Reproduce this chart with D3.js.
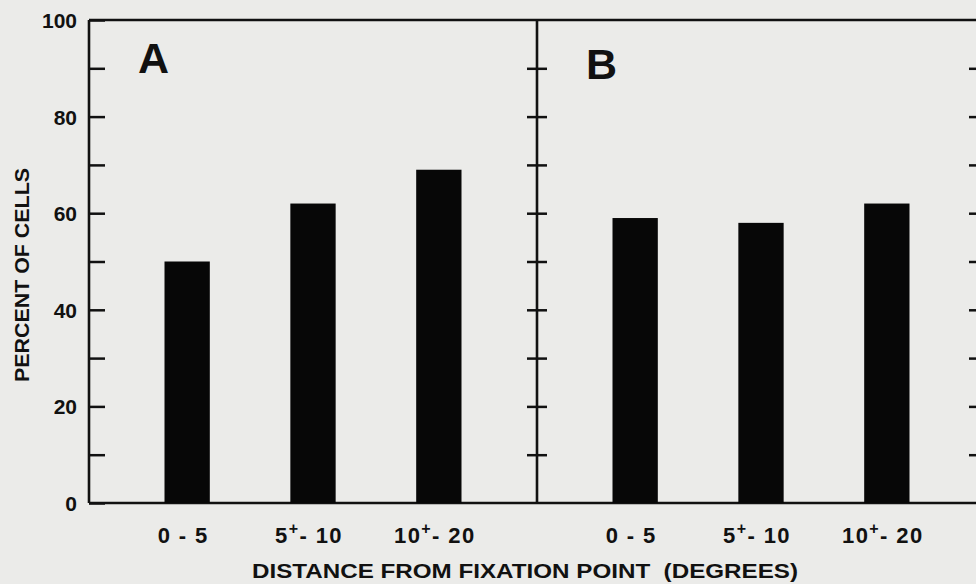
<!DOCTYPE html>
<html>
<head>
<meta charset="utf-8">
<script src="https://cdn.jsdelivr.net/npm/d3@7"></script>
<style>
  html, body { margin: 0; padding: 0; background: #ebebe9; }
  svg { display: block; }
  text { font-family: "Liberation Sans", Arial, sans-serif; font-weight: 700; fill: #111; }
</style>
</head>
<body>
<svg id="chart" width="976" height="584"></svg>
<script>
// ---- data ----
const categories = ["0 - 5", "5+- 10", "10+- 20"];
const panelNames = ["A", "B"];
const valuesA = [50, 62, 69];
const valuesB = [59, 58, 62];
const yTickValues = [0, 10, 20, 30, 40, 50, 60, 70, 80, 90, 100];
const yLabelValues = [0, 20, 40, 60, 80, 100];
const yTitle = "PERCENT OF CELLS";
const xTitle = "DISTANCE FROM FIXATION POINT  (DEGREES)";

// ---- layout ----
const W = 976, H = 584;
const plotLeft = 89, plotTop = 20, plotBottom = 503, panelW = 448;
const ink = "#111";
const svg = d3.select("#chart");
svg.append("rect").attr("width", W).attr("height", H).attr("fill", "#ebebe9");

const y = d3.scaleLinear().domain([0, 100]).range([plotBottom, plotTop]);
const panelX = d3.scaleBand().domain(panelNames).range([plotLeft, plotLeft + 2 * panelW]).padding(0);
const x = d3.scaleBand().domain(categories).range([0, panelW])
  .paddingInner(0.64).paddingOuter(0.6);

const panels = [
  { name: "A", values: valuesA, lx: 49, ly: 73 },
  { name: "B", values: valuesB, lx: 49, ly: 79 }
];

// left axis with labels (ticks pointing inward)
const leftAxis = d3.axisLeft(y).tickValues(yTickValues)
  .tickSizeInner(-16).tickSizeOuter(0).tickPadding(12)
  .tickFormat(d => yLabelValues.includes(d) ? d : "");
const gL = svg.append("g").attr("transform", `translate(${plotLeft},0)`).call(leftAxis);
gL.select(".domain").remove();
gL.selectAll("line").attr("stroke", ink).attr("stroke-width", 2.5);
gL.selectAll("text").attr("font-size", 21).attr("fill", ink)
  .attr("font-family", "Liberation Sans, Arial, sans-serif").attr("font-weight", 700)
  .attr("dy", "0.36em");

// divider ticks crossing both sides
const midX = panelX("B");
[d3.axisLeft(y).tickSizeInner(10), d3.axisRight(y).tickSizeInner(10)].forEach(ax => {
  const g = svg.append("g").attr("transform", `translate(${midX},0)`)
    .call(ax.tickValues(yTickValues.filter(v => v > 0 && v < 100)).tickSizeOuter(0).tickFormat(""));
  g.select(".domain").remove();
  g.selectAll("line").attr("stroke", ink).attr("stroke-width", 2.5);
});

// right axis ticks (inward)
const rightX = panelX("B") + panelW;
const gR = svg.append("g").attr("transform", `translate(${rightX},0)`)
  .call(d3.axisLeft(y).tickValues(yTickValues.filter(v => v > 0 && v < 100)).tickSizeInner(16).tickSizeOuter(0).tickFormat(""));
gR.select(".domain").remove();
gR.selectAll("line").attr("stroke", ink).attr("stroke-width", 2.5);

// frame lines
const frame = svg.append("g").attr("stroke", ink).attr("stroke-width", 2.6).attr("fill", "none");
frame.append("line").attr("x1", plotLeft).attr("x2", rightX).attr("y1", y(100)).attr("y2", y(100));
frame.append("line").attr("x1", plotLeft).attr("x2", rightX).attr("y1", y(0)).attr("y2", y(0));
frame.append("line").attr("x1", plotLeft).attr("x2", plotLeft).attr("y1", y(100)).attr("y2", y(0));
frame.append("line").attr("x1", midX).attr("x2", midX).attr("y1", y(100)).attr("y2", y(0));
frame.append("line").attr("x1", rightX).attr("x2", rightX).attr("y1", y(100)).attr("y2", y(0));

// panels
panels.forEach(p => {
  const g = svg.append("g").attr("transform", `translate(${panelX(p.name)},0)`);
  g.selectAll("rect.bar").data(p.values).join("rect")
    .attr("class", "bar")
    .attr("x", (d, i) => x(categories[i]))
    .attr("width", x.bandwidth())
    .attr("y", d => y(d))
    .attr("height", d => y(0) - y(d))
    .attr("fill", "#070707");

  g.append("text").attr("x", p.lx).attr("y", p.ly)
    .attr("font-size", 43).attr("fill", ink).text(p.name);

  const lab = g.selectAll("text.cat").data(categories).join("text")
    .attr("class", "cat")
    .attr("x", d => x(d) + x.bandwidth() / 2 - 4)
    .attr("y", 543)
    .attr("text-anchor", "middle")
    .attr("font-size", 22)
    .attr("letter-spacing", 1.4)
    .attr("fill", ink);
  lab.each(function(d) {
    const t = d3.select(this);
    const parts = d.split("+");
    if (parts.length === 1) { t.text(d); return; }
    t.append("tspan").text(parts[0]);
    t.append("tspan").attr("dy", -9).attr("font-size", 16).text("+");
    t.append("tspan").attr("dy", 9).text(parts[1]);
  });
});

// axis titles
svg.append("text")
  .attr("transform", `translate(29,275) rotate(-90)`)
  .attr("text-anchor", "middle")
  .attr("font-size", 21)
  .attr("textLength", 214).attr("lengthAdjust", "spacingAndGlyphs")
  .text(yTitle);

svg.append("text")
  .attr("x", 525).attr("y", 578)
  .attr("text-anchor", "middle")
  .attr("font-size", 21)
  .attr("textLength", 546).attr("lengthAdjust", "spacingAndGlyphs")
  .style("white-space", "pre")
  .text(xTitle);
</script>
</body>
</html>
